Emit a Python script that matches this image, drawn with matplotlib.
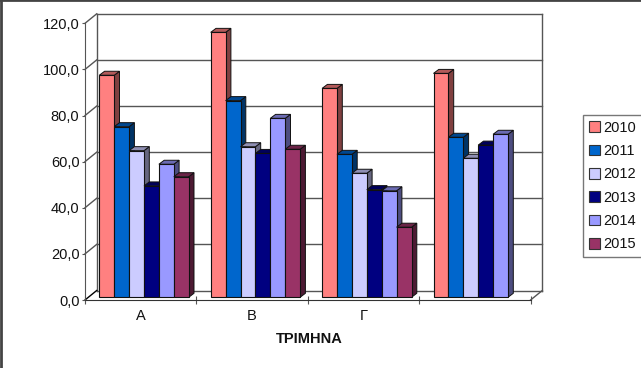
import matplotlib
matplotlib.use('Agg')
from matplotlib import pyplot as plt
from matplotlib.colors import to_rgb
from matplotlib.lines import Line2D
from matplotlib.patches import Patch, Polygon
from matplotlib.transforms import Affine2D

plt.rcParams['font.family'] = ['Liberation Sans', 'DejaVu Sans']

quarters = ['Α', 'Β', 'Γ', '']
years = ['2010', '2011', '2012', '2013', '2014', '2015']
y2010 = [96.3, 114.9, 90.6, 97.1]
y2011 = [74.0, 85.3, 62.0, 69.4]
y2012 = [63.6, 65.3, 53.8, 60.3]
y2013 = [48.3, 62.4, 46.7, 66.0]
y2014 = [57.7, 77.6, 46.2, 70.7]
y2015 = [52.3, 64.2, 30.4, None]
series = [y2010, y2011, y2012, y2013, y2014, y2015]
colors = ['#FF8080', '#0066CC', '#CCCCFF', '#000080', '#9999FF', '#993366']
y_ticks = [0, 20, 40, 60, 80, 100, 120]
y_labels = ['0,0', '20,0', '40,0', '60,0', '80,0', '100,0', '120,0']

W, H = 641, 368
fig = plt.figure(figsize=(W / 100, H / 100), dpi=100)
ax = fig.add_axes([85 / W, (H - 300) / H, 445.6 / W, 276.7 / H])
ax.set_xlim(0, 4)
ax.set_ylim(0, 120)
ax.patch.set_visible(False)

# back wall sits behind the front plane, offset in pixels
back = ax.transData + Affine2D().translate(11.7, 9.5)
line_c = '#555555'
for v in y_ticks:
    ax.plot([0, 4], [v, v], transform=back, c=line_c, lw=1, clip_on=False, zorder=1)
ax.plot([0, 0], [0, 120], transform=back, c=line_c, lw=1, clip_on=False, zorder=1)
ax.plot([4, 4], [0, 120], transform=back, c=line_c, lw=1, clip_on=False, zorder=1)

# side wall and floor edges, front plane to back wall
px_x = 11.7 / 111.4
px_y = 9.5 / 2.306
for v in y_ticks:
    ax.plot([0, px_x], [v, v + px_y], c='k' if v == 0 else line_c, lw=1,
            clip_on=False, zorder=1)
ax.plot([4, 4 + px_x], [0, px_y], c=line_c, lw=1, clip_on=False, zorder=1)

# bars
bar_w = 14.9 / 111.4
start = 14.3 / 111.4
depth_x = 5.3 / 111.4
depth_y = 4.0 / 2.306
bars = ax.transData + Affine2D().translate(0, 2.7)


def shade(c, f):
    return tuple(x * f for x in to_rgb(c))


z = 3
for q in range(len(quarters)):
    for s, vals in enumerate(series):
        v = vals[q]
        if v is None:
            continue
        x0 = q + start + s * bar_w
        x1 = x0 + bar_w
        side = [(x1, 0), (x1 + depth_x, depth_y), (x1 + depth_x, v + depth_y), (x1, v)]
        top = [(x0, v), (x0 + depth_x, v + depth_y), (x1 + depth_x, v + depth_y), (x1, v)]
        ax.add_patch(Polygon(side, fc=shade(colors[s], .5), ec='#111111', lw=.7,
                             transform=bars, clip_on=False, zorder=z))
        ax.add_patch(Polygon(top, fc=shade(colors[s], .7), ec='#111111', lw=.7,
                             transform=bars, clip_on=False, zorder=z))
        ax.bar(x0, v, bar_w, align='edge', color=colors[s], ec='#111111', lw=.8,
               transform=bars, clip_on=False, zorder=z + 1)
        z += 2

for name in ['top', 'right']:
    ax.spines[name].set_visible(False)
ax.spines['left'].set_color(line_c)
ax.spines['bottom'].set_color('#333333')
ax.spines['left'].set_zorder(2)

ax.set_yticks(y_ticks, y_labels, fontsize=10.5, color='#111111')
ax.tick_params(axis='y', length=2.5, width=.8, color=line_c, pad=1.5)
ax.set_xticks([0, 1, 2, 3, 4], [''] * 5)
ax.tick_params(axis='x', which='major', direction='inout', length=6, width=.8, color=line_c)
ax.set_xticks([i + .5 for i in range(4)], quarters, minor=True, fontsize=10.5)
ax.tick_params(axis='x', which='minor', length=0, pad=6.5, colors='#111111')

fig.text(309.5 / W, (H - 339) / H, 'ΤΡΙΜΗΝΑ', fontsize=10.5, fontweight='bold',
         ha='center', va='center', color='#111111')

handles = [Patch(fc=c, ec='#333333', lw=.8) for c in colors]
fig.legend(handles, years, loc='upper left', bbox_to_anchor=(583.3 / W, (H - 115) / H),
           fontsize=10.5, frameon=True, fancybox=False, edgecolor='#777777',
           framealpha=1, handlelength=.75, handleheight=.75, handletextpad=.22,
           labelspacing=.64, borderpad=.4, borderaxespad=0, labelcolor='#111111')

# dark frame on top and left of the picture
fig.add_artist(Line2D([0, 1], [.999, .999], c='#444444', lw=2))
fig.add_artist(Line2D([.001, .001], [0, 1], c='#444444', lw=2))

plt.savefig('out.png', dpi=100)
